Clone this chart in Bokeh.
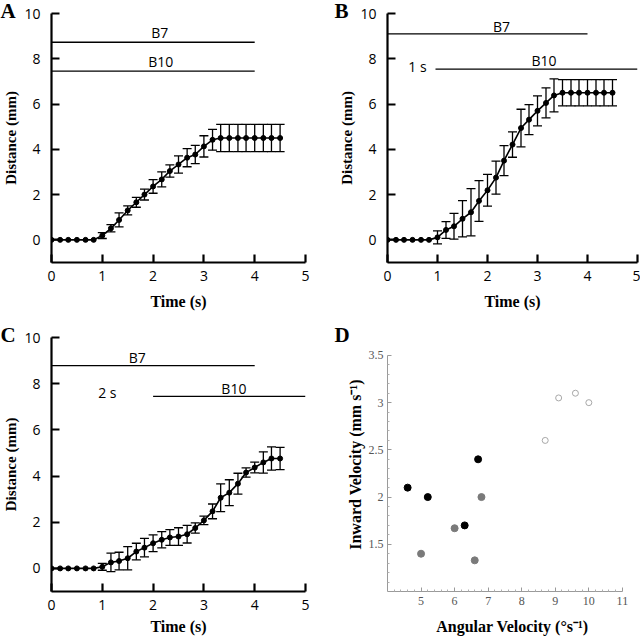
from bokeh.plotting import figure
from bokeh.layouts import row, column
from bokeh.models import ColumnDataSource, Whisker, TeeHead, Title, FixedTicker, Range1d
from bokeh.embed import file_html
from bokeh.resources import INLINE
from bokeh.core.properties import value

# ---------------- data ----------------
time_s = [0, 0.17, 0.33, 0.5, 0.67, 0.83, 1.0, 1.17, 1.33, 1.5, 1.67, 1.83, 2.0, 2.17,
          2.33, 2.5, 2.67, 2.83, 3.0, 3.17, 3.33, 3.5, 3.67, 3.83, 4.0, 4.17, 4.33, 4.5]

a_mean = [0, 0, 0, 0, 0, 0, 0.19, 0.51, 0.88, 1.30, 1.66, 2.0, 2.36, 2.67, 3.04, 3.33,
          3.63, 3.77, 4.13, 4.42, 4.5, 4.5, 4.5, 4.5, 4.5, 4.5, 4.5, 4.5]
a_err = [0, 0, 0, 0, 0, 0, 0.13, 0.16, 0.31, 0.2, 0.22, 0.24, 0.3, 0.33, 0.27, 0.38,
         0.4, 0.4, 0.47, 0.46, 0.6, 0.6, 0.6, 0.6, 0.6, 0.6, 0.6, 0.6]

b_mean = [0, 0, 0, 0, 0, 0, 0.11, 0.44, 0.6, 0.93, 1.22, 1.72, 2.19, 2.75, 3.5, 4.21,
          4.94, 5.31, 5.70, 6.05, 6.38, 6.5, 6.5, 6.5, 6.5, 6.5, 6.5, 6.5]
b_err = [0, 0, 0, 0, 0, 0, 0.29, 0.37, 0.57, 0.8, 1.04, 0.9, 0.7, 0.73, 0.66, 0.56,
         0.83, 0.66, 0.66, 0.66, 0.73, 0.58, 0.58, 0.58, 0.58, 0.58, 0.58, 0.58]

c_mean = [0, 0, 0, 0, 0, 0, 0.07, 0.26, 0.32, 0.44, 0.73, 0.90, 1.09, 1.24, 1.34, 1.38,
          1.48, 1.75, 2.08, 2.47, 3.06, 3.28, 3.67, 4.15, 4.37, 4.59, 4.76, 4.76]
c_err = [0, 0, 0, 0, 0, 0, 0.15, 0.4, 0.38, 0.5, 0.36, 0.4, 0.36, 0.35, 0.34, 0.38,
         0.38, 0.22, 0.18, 0.32, 0.6, 0.56, 0.45, 0.2, 0.23, 0.46, 0.5, 0.48]

# stimulus bars (x start, x end, y level) and their labels
a_bar_x0 = [0, 0]
a_bar_x1 = [4, 4]
a_bar_y = [8.73, 7.45]
a_text = ["B7", "B10"]
a_text_x = [2.13, 2.15]
a_text_y = [9.15, 7.86]

b_bar_x0 = [0, 0.96]
b_bar_x1 = [4, 5]
b_bar_y = [9.1, 7.54]
b_text = ["B7", "1 s", "B10"]
b_text_x = [2.28, 0.6, 3.13]
b_text_y = [9.44, 7.65, 7.94]

c_bar_x0 = [0, 2]
c_bar_x1 = [4, 5]
c_bar_y = [8.78, 7.45]
c_text = ["B7", "2 s", "B10"]
c_text_x = [1.69, 1.1, 3.59]
c_text_y = [9.14, 7.6, 7.79]

dist_yticks = [0, 2, 4, 6, 8, 10]
time_xticks = [0, 1, 2, 3, 4, 5]

# panel D
d_black_x = [4.6, 5.2, 6.3, 6.7]
d_black_y = [2.1, 2.0, 1.7, 2.4]
d_gray_x = [5.0, 6.0, 6.6, 6.8]
d_gray_y = [1.4, 1.67, 1.33, 2.0]
d_open_x = [8.7, 9.1, 9.6, 10.0]
d_open_y = [2.6, 3.05, 3.1, 3.0]
d_xticks = [5, 6, 7, 8, 9, 10, 11]
d_yticks = [1.5, 2, 2.5, 3, 3.5]

SANS = "Open Sans"
SERIF = "Liberation Serif"


def add_letter(p, text, offset):
    t = Title(text=text, align="left", vertical_align="middle", offset=offset,
              text_font=SERIF, text_font_style="bold", text_font_size="21px",
              text_color="black")
    try:
        t.standoff = -20
    except Exception:
        pass
    p.add_layout(t, "above")


def dist_panel(mean, err, bx0, bx1, by, tx, ty, tt, width, height,
               mb_left, mb_right, mb_top, mb_bottom, xlabel_standoff):
    p = figure(width=width, height=height, output_backend="svg", toolbar_location=None,
               x_range=Range1d(0, 5), y_range=Range1d(-1, 10),
               min_border_left=mb_left, min_border_right=mb_right,
               min_border_top=mb_top, min_border_bottom=mb_bottom)
    p.outline_line_color = None
    p.xgrid.visible = False
    p.ygrid.visible = False

    for ax in (p.xaxis, p.yaxis):
        ax.axis_line_width = 2.2
        ax.major_tick_line_width = 2.2
        ax.major_tick_in = 8
        ax.major_tick_out = 0
        ax.minor_tick_line_color = None
        ax.major_label_text_font = SANS
        ax.major_label_text_font_size = "14px"
        ax.major_label_text_color = "black"
        ax.axis_label_text_font = SERIF
        ax.axis_label_text_font_style = "bold"
        ax.axis_label_text_color = "black"
    p.xaxis.axis_label_text_font_size = "16px"
    p.yaxis.axis_label_text_font_size = "15px"
    p.xaxis.ticker = FixedTicker(ticks=time_xticks)
    p.yaxis.ticker = FixedTicker(ticks=dist_yticks)
    p.xaxis.axis_label = "Time (s)"
    p.yaxis.axis_label = "Distance (mm)"
    p.xaxis.major_label_standoff = 8
    p.xaxis.axis_label_standoff = xlabel_standoff
    p.yaxis.major_label_standoff = 11
    p.yaxis.axis_label_standoff = 2

    p.segment(x0=bx0, x1=bx1, y0=by, y1=by, line_color="black", line_width=1.3)
    p.text(x=tx, y=ty, text=tt, text_font=value(SANS), text_font_size="14px",
           text_align="center", text_baseline="middle", text_color="black")

    wx = [t for t, e in zip(time_s, err) if e > 0]
    wu = [m + e for m, e in zip(mean, err) if e > 0]
    wl = [m - e for m, e in zip(mean, err) if e > 0]
    wsrc = ColumnDataSource(dict(t=wx, upper=wu, lower=wl))
    wh = Whisker(source=wsrc, base="t", upper="upper", lower="lower",
                 line_color="black", line_width=1.3,
                 upper_head=TeeHead(size=9, line_width=1.3, line_color="black"),
                 lower_head=TeeHead(size=9, line_width=1.3, line_color="black"))
    p.add_layout(wh)

    src = ColumnDataSource(dict(t=time_s, m=mean))
    p.line("t", "m", source=src, line_color="black", line_width=1.6)
    p.scatter("t", "m", source=src, size=5, color="black")
    return p


pA = dist_panel(a_mean, a_err, a_bar_x0, a_bar_x1, a_bar_y, a_text_x, a_text_y, a_text,
                320, 320, 51, 15, 13, 58, 9)
pB = dist_panel(b_mean, b_err, b_bar_x0, b_bar_x1, b_bar_y, b_text_x, b_text_y, b_text,
                320, 320, 67, 3, 13, 58, 9)
pC = dist_panel(c_mean, c_err, c_bar_x0, c_bar_x1, c_bar_y, c_text_x, c_text_y, c_text,
                320, 319, 51, 15, 17, 48, 5)

# ---------------- panel D ----------------
pD = figure(width=320, height=319, output_backend="svg", toolbar_location=None,
            x_range=Range1d(4, 11.45), y_range=Range1d(1, 3.69),
            min_border_left=67, min_border_right=3, min_border_top=17, min_border_bottom=48)
pD.outline_line_color = None
pD.xgrid.visible = False
pD.ygrid.visible = False
for ax in (pD.xaxis, pD.yaxis):
    ax.axis_line_color = "#9a9a9a"
    ax.axis_line_width = 1
    ax.major_tick_line_color = "#9a9a9a"
    ax.minor_tick_line_color = "#b0b0b0"
    ax.major_tick_in = 4
    ax.major_tick_out = 0
    ax.minor_tick_in = 2
    ax.minor_tick_out = 0
    ax.major_label_text_font = SERIF
    ax.major_label_text_font_size = "12px"
    ax.major_label_text_color = "#555555"
    ax.axis_label_text_font = SERIF
    ax.axis_label_text_font_style = "bold"
    ax.axis_label_text_font_size = "16px"
    ax.axis_label_text_color = "black"
pD.xaxis.bounds = (4, 11)
pD.yaxis.bounds = (1, 3.5)
pD.xaxis.ticker = FixedTicker(ticks=d_xticks,
                              minor_ticks=[4.2, 4.4, 4.6, 4.8, 5.2, 5.4, 5.6, 5.8, 6.2, 6.4, 6.6, 6.8,
                                           7.2, 7.4, 7.6, 7.8, 8.2, 8.4, 8.6, 8.8, 9.2, 9.4, 9.6, 9.8,
                                           10.2, 10.4, 10.6, 10.8])
pD.yaxis.ticker = FixedTicker(ticks=d_yticks,
                              minor_ticks=[1.1, 1.2, 1.3, 1.4, 1.6, 1.7, 1.8, 1.9, 2.1, 2.2, 2.3, 2.4,
                                           2.6, 2.7, 2.8, 2.9, 3.1, 3.2, 3.3, 3.4])
pD.xaxis.major_label_standoff = 5
pD.yaxis.major_label_standoff = 4
pD.xaxis.axis_label = "Angular Velocity (°s\u207b\u00b9)"
pD.yaxis.axis_label = "Inward Velocity (mm s\u207b\u00b9)"
pD.xaxis.axis_label_standoff = 10
pD.yaxis.axis_label_standoff = 2

pD.scatter(d_black_x, d_black_y, size=7, color="black")
pD.scatter(d_gray_x, d_gray_y, size=7, color="#7a7a7a")
pD.scatter(d_open_x, d_open_y, size=6, fill_color=None, line_color="#a8a8a8", line_width=1)

# panel letters
add_letter(pA, "A", -51)
add_letter(pB, "B", -53)
add_letter(pC, "C", -51)
add_letter(pD, "D", -53)

layout = column(row(pA, pB), row(pC, pD))
open("out.html", "w").write(file_html(layout, INLINE))
